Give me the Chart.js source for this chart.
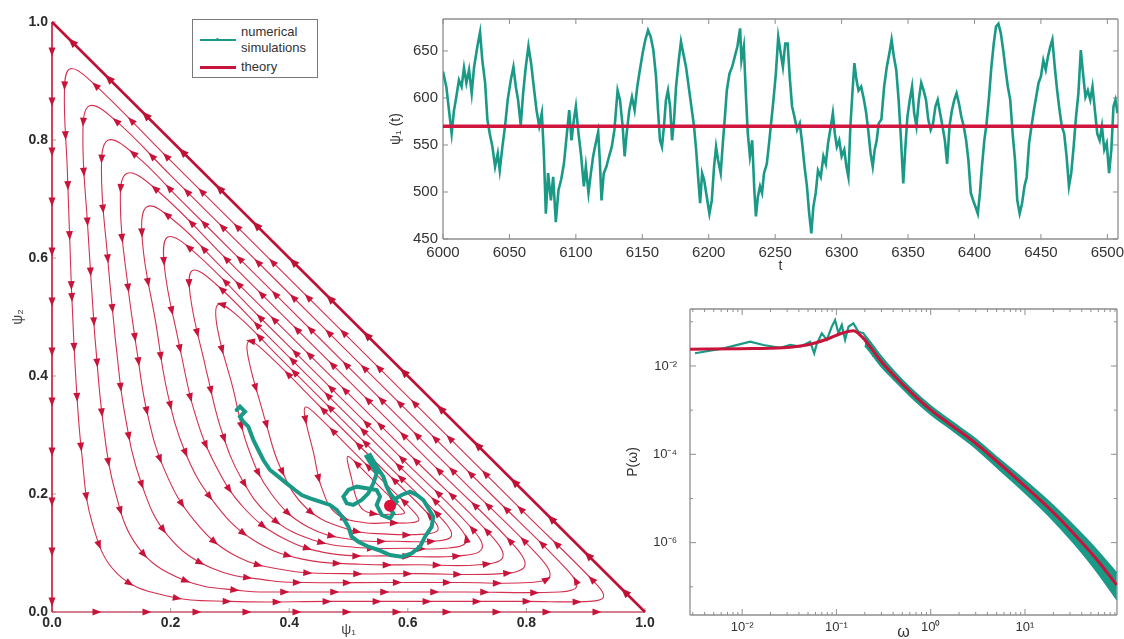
<!DOCTYPE html>
<html><head><meta charset="utf-8">
<script src="https://cdn.jsdelivr.net/npm/chart.js@4.4.1/dist/chart.umd.min.js"></script>
<style>
html,body{margin:0;padding:0;background:#fff;}
body{width:1124px;height:639px;position:relative;overflow:hidden;font-family:'Liberation Sans',Arial,sans-serif;}
canvas{position:absolute;}
#legend{position:absolute;left:192px;top:19px;width:126px;height:59px;border:1px solid #7a7a7a;background:#fff;box-sizing:border-box;font-size:13px;color:#333;z-index:5;}
#legend span{position:absolute;left:48px;line-height:16px;white-space:nowrap;}
#legend .ln{position:absolute;left:7px;width:36px;}
#legend .dot{position:absolute;left:23px;width:3px;height:3px;border-radius:50%;}
</style></head><body>
<canvas id="phase" width="660" height="639" style="left:0;top:0;width:660px;height:639px"></canvas>
<canvas id="series" width="754" height="290" style="left:370px;top:0;width:754px;height:290px"></canvas>
<canvas id="spectrum" width="509" height="349" style="left:615px;top:290px;width:509px;height:349px"></canvas>
<div id="legend">
  <div class="ln" style="top:19px;height:1.5px;background:#1a9a86"></div>
  <div class="dot" style="top:18px;background:#1a9a86"></div>
  <span style="top:4px">numerical</span>
  <span style="top:20px">simulations</span>
  <div class="ln" style="top:46px;height:3px;background:#c8143a"></div>
  <span style="top:39px">theory</span>
</div>
<script>
// ---------------- DATA ----------------
// Left panel: phase portrait (psi1, psi2)
const phaseTickValues = [0, 0.2, 0.4, 0.6, 0.8, 1.0];
const phaseTickLabels = ['0.0', '0.2', '0.4', '0.6', '0.8', '1.0'];
const fixedPoint = [0.57, 0.18];
const edgeHyp = [[1, 0], [0, 1]];
const edgeLeft = [[0, 1], [0, 0]];
const edgeBottom = [[0, 0], [1, 0]];
const loop1 = [[.0327,.55],[.040,.40],[.050,.27],[.068,.15],[.11,.065],[.19,.028],[.30,.018],[.47,.018],[.64,.018],[.80,.018],[.907,.018],[.93,.025],[.919,.046],[.80,.165],[.65,.315],[.50,.465],[.35,.615],[.20,.765],[.061,.904],[.030,.9205],[.021,.886],[.0258,.75],[.0327,.55]];
const loop2 = [[.072,.47],[.085,.33],[.105,.21],[.145,.11],[.22,.055],[.32,.036],[.39,.034],[.54,.034],[.70,.034],[.856,.034],[.8847,.0429],[.8706,.0694],[.74,.20],[.60,.34],[.46,.48],[.32,.62],[.20,.74],[.1046,.8354],[.0632,.8579],[.0521,.812],[.0604,.65],[.072,.47]];
const loop3 = [[.107,.46],[.122,.34],[.15,.22],[.195,.13],[.27,.074],[.37,.053],[.43,.05],[.56,.05],[.69,.05],[.805,.05],[.8394,.0606],[.8226,.0924],[.70,.215],[.57,.345],[.44,.475],[.31,.605],[.22,.695],[.1406,.7744],[.0945,.7996],[.0834,.748],[.0939,.60],[.107,.46]];
const loop4 = [[.142,.45],[.16,.34],[.19,.24],[.24,.155],[.31,.095],[.40,.07],[.49,.065],[.62,.065],[.757,.065],[.7971,.0774],[.7775,.1145],[.66,.232],[.54,.352],[.42,.472],[.30,.592],[.1767,.7153],[.126,.7433],[.1154,.686],[.1283,.55],[.142,.45]];
const loop5 = [[.175,.49],[.195,.37],[.225,.27],[.27,.19],[.335,.125],[.42,.09],[.52,.081],[.62,.08],[.72,.08],[.7601,.0924],[.7405,.1295],[.62,.25],[.50,.37],[.38,.49],[.28,.59],[.2107,.6593],[.1608,.6873],[.1523,.63],[.175,.49]];
const loop6 = [[.215,.45],[.24,.34],[.275,.25],[.325,.175],[.39,.125],[.47,.099],[.57,.095],[.685,.095],[.7251,.1074],[.7055,.1445],[.59,.26],[.47,.38],[.35,.50],[.2396,.6104],[.1953,.6356],[.1897,.584],[.215,.45]];
const loop7 = [[.26,.41],[.285,.31],[.32,.225],[.37,.16],[.44,.122],[.52,.109],[.60,.108],[.664,.108],[.6984,.1186],[.6816,.1504],[.57,.262],[.46,.372],[.36,.472],[.2756,.5564],[.2368,.5789],[.2336,.533],[.26,.41]];
const loop8 = [[.305,.38],[.33,.28],[.37,.20],[.43,.145],[.51,.122],[.58,.12],[.645,.12],[.6737,.1289],[.6596,.1554],[.56,.255],[.46,.355],[.38,.435],[.3135,.5015],[.2801,.5212],[.2789,.481],[.305,.38]];
const loop9 = [[.358,.33],[.385,.245],[.43,.175],[.50,.14],[.565,.132],[.628,.132],[.6509,.1391],[.6397,.1603],[.55,.25],[.45,.35],[.3554,.4446],[.3317,.4587],[.3312,.43],[.358,.33]];
const loop10 = [[.441,.27],[.4546,.2112],[.4796,.1662],[.528,.1512],[.567,.1512],[.6048,.1512],[.6185,.1555],[.6118,.1682],[.558,.222],[.498,.282],[.4412,.3388],[.427,.3472],[.4267,.33],[.441,.27]];
const loop11 = [[.5055,.225],[.5123,.1956],[.5248,.1731],[.549,.1656],[.5685,.1656],[.5874,.1656],[.5943,.1677],[.5909,.1741],[.564,.201],[.534,.231],[.5056,.2594],[.4985,.2636],[.4984,.255],[.5055,.225]];
const trajectory = [[.3114,.3424],[.3170,.348],[.3255,.3395],[.3170,.331],[.3226,.3226],[.3311,.3141],[.3395,.2915],[.3479,.2746],[.3564,.2576],[.3676,.2407],[.3817,.2294],[.3957,.2181],[.4098,.2068],[.4210,.1983],[.4351,.1927],[.4519,.187],[.4688,.1814],[.4801,.1729],[.4913,.1588],[.4997,.1446],[.5053,.1277],[.5166,.1192],[.5334,.1107],[.5503,.1051],[.570,.0966],[.5897,.0938],[.6065,.0994],[.6206,.1107],[.629,.1277],[.6403,.1446],[.643,.1616],[.6346,.1757],[.6262,.1898],[.615,.1983],[.6037,.2040],[.5897,.1983],[.5756,.1898],[.5672,.1785],[.5756,.1672],[.570,.1588],[.556,.1644],[.5475,.1814],[.5531,.1955],[.5475,.2068],[.5306,.2096],[.5138,.2124],[.4997,.2068],[.4913,.1955],[.4969,.1842],[.5081,.1814],[.5222,.1898],[.5334,.2011],[.5419,.2181],[.5475,.2350],[.5391,.2492],[.5306,.2633],[.5363,.2661],[.5475,.2463],[.5587,.2294],[.5644,.2124],[.570,.2011],[.5812,.187],[.5728,.1757],[.5644,.1785]];

// Top right: psi1(t) time series
const seriesXTicks = [6000, 6050, 6100, 6150, 6200, 6250, 6300, 6350, 6400, 6450, 6500];
const seriesYTicks = [450, 500, 550, 600, 650];
const theoryLevel = 570;
const psi1Series = [[6000,628],[6002.5,612],[6004.5,587],[6006.5,562],[6008.3,587],[6010,601],[6012,619],[6014,612],[6015.8,632],[6017.6,616],[6019.6,630],[6021.6,605],[6023.4,633],[6025.9,655],[6027.9,670],[6029.6,640],[6031.7,616],[6033.4,577],[6035.2,562],[6037.2,548],[6039.2,527],[6041.2,541],[6042.7,523],[6044.7,548],[6046.7,570],[6048.7,598],[6051,619],[6053,633],[6054.8,612],[6056.5,598],[6058.5,571],[6060.3,605],[6062.3,633],[6064.3,655],[6066.3,637],[6068.3,612],[6070.4,587],[6072.4,570],[6074.4,584],[6075.9,541],[6077.4,477],[6079.1,520],[6081.2,491],[6082.9,516],[6084.9,468],[6086.9,502],[6088.9,513],[6091,530],[6093,559],[6095,587],[6096.7,555],[6098.5,577],[6100,591],[6102,562],[6104,538],[6106,506],[6107.5,527],[6109.5,499],[6111.3,520],[6113,538],[6115,552],[6116.8,564],[6118,534],[6119.3,491],[6121,520],[6123,527],[6125,538],[6127,548],[6129,566],[6131.4,608],[6133.2,598],[6135.2,570],[6136.7,538],[6138.2,562],[6140.2,587],[6142.2,601],[6144.2,587],[6146.2,612],[6148.2,630],[6150.3,648],[6152.3,662],[6154.3,672],[6156.3,665],[6158.3,651],[6160.3,623],[6161.8,587],[6163.3,555],[6164.8,548],[6166.3,570],[6167.8,598],[6169.3,608],[6170.9,591],[6172.4,555],[6173.9,577],[6175.4,612],[6177.4,640],[6179.1,660],[6180.9,647],[6182.9,633],[6184.9,612],[6186.9,591],[6188.9,570],[6190.5,545],[6192,516],[6193.5,488],[6195,520],[6196.5,513],[6198.5,495],[6200.5,477],[6202.3,491],[6204,527],[6205.5,548],[6207,534],[6209,520],[6210.6,552],[6212,577],[6213.6,608],[6215.6,626],[6217.6,633],[6219.6,644],[6221.6,655],[6223.6,674],[6224.6,640],[6226.4,655],[6227.9,605],[6229.4,562],[6231,538],[6232.7,555],[6234.3,502],[6235.5,474],[6237,495],[6238.6,506],[6240.1,499],[6241.6,520],[6243.7,530],[6245.4,552],[6247.2,577],[6248.7,598],[6250.5,626],[6252.3,665],[6254.1,648],[6255.8,633],[6257.6,658],[6259.4,658],[6260.9,623],[6262.7,591],[6264.5,580],[6266.5,566],[6268.5,573],[6270.3,552],[6272.1,527],[6273.9,506],[6275.6,477],[6277.2,456],[6278.7,484],[6280.5,499],[6282.2,523],[6284.3,516],[6286.3,538],[6288.1,530],[6289.8,552],[6291.9,570],[6293.4,584],[6294.9,562],[6296.4,548],[6298.2,555],[6300,538],[6302,545],[6303.6,527],[6305.1,516],[6306.6,570],[6308.1,605],[6309.6,637],[6311.2,619],[6312.7,608],[6314.7,612],[6316.8,598],[6318.5,584],[6320.3,562],[6321.8,541],[6323.4,527],[6324.9,545],[6326.4,555],[6327.9,573],[6329.9,577],[6332,612],[6334,633],[6336,648],[6337.6,662],[6339.3,644],[6341.1,630],[6342.9,598],[6344.7,555],[6346.4,509],[6348,548],[6349.5,580],[6351.3,598],[6353,612],[6354.6,584],[6356.3,570],[6358.1,598],[6359.9,616],[6361.7,608],[6363.5,598],[6365.2,577],[6367,566],[6368.8,573],[6370.6,591],[6372.3,598],[6374.1,584],[6375.9,570],[6377.7,555],[6379.4,530],[6381.2,570],[6383,587],[6384.8,598],[6386.5,605],[6388.3,594],[6390.1,580],[6391.9,570],[6393.7,555],[6395.4,534],[6397.2,499],[6399,491],[6400.8,484],[6402.5,477],[6404.1,499],[6405.6,527],[6407.4,555],[6409.1,573],[6410.9,601],[6412.7,633],[6414.5,658],[6416.2,676],[6418,679],[6419.8,669],[6421.6,651],[6423.4,630],[6425.1,612],[6426.9,598],[6428.7,562],[6430.5,534],[6432.2,491],[6434,477],[6435.8,488],[6437.6,506],[6439.3,516],[6441.1,552],[6442.9,570],[6444.7,587],[6446.4,601],[6448.2,616],[6450,623],[6451.8,640],[6453.6,630],[6455.3,644],[6457.1,655],[6458.6,662],[6460.4,633],[6462.2,608],[6464,587],[6465.7,570],[6467.5,562],[6469.3,538],[6471.1,506],[6472.8,520],[6474.6,548],[6476.4,580],[6478.2,605],[6480,651],[6481.7,626],[6483.5,601],[6485.3,608],[6487.1,598],[6488.8,612],[6490.6,587],[6492.4,562],[6494.2,555],[6495.9,570],[6497.7,545],[6499.5,552],[6501.3,520],[6503,545],[6504.6,591],[6506.1,598],[6507.6,584]];

// Bottom right: power spectrum P(omega)
const specXTicks = [0.01, 0.1, 1, 10];
const specXLabels = ['10\u207B\u00B2', '10\u207B\u00B9', '10\u2070', '10\u00B9'];
const specYTicks = [1e-6, 1e-4, 1e-2];
const specYLabels = ['10\u207B\u2076', '10\u207B\u2074', '10\u207B\u00B2'];
const spectrumTheory = [[0.00281,0.0239],[0.00955,0.0246],[0.0274,0.0259],[0.0485,0.0299],[0.0791,0.0402],[0.1186,0.0566],[0.1514,0.0628],[0.1858,0.046],[0.2275,0.0274],[0.290,0.01368],[0.4027,0.00625],[0.605,0.00262],[1.0,0.00101],[2.84,1.95e-4],[9.62,2.04e-5],[18,6.0e-6],[32.6,1.64e-6],[56,4.5e-7],[94.0,1.1e-7]];
const spectrumSimLow = [[0.00316,0.0194],[0.00634,0.0251],[0.01216,0.0355],[0.01683,0.0299],[0.0253,0.0259],[0.0324,0.0299],[0.0412,0.0274],[0.0526,0.0355],[0.0581,0.0194],[0.0619,0.0316],[0.070,0.055],[0.0791,0.039],[0.0893,0.0774],[0.0968,0.1096],[0.105,0.055],[0.114,0.0848],[0.1236,0.039],[0.1343,0.0774],[0.1514,0.0923],[0.171,0.0597],[0.1932,0.055],[0.2275,0.0316],[0.2466,0.0162]];
const spectrumSimUpper = [[0.2,0.0501],[0.2275,0.0361],[0.29,0.0180],[0.4027,0.00787],[0.605,0.00323],[1.0,0.001245],[1.7,5.40e-4],[2.84,2.45e-4],[5.2,8.20e-5],[9.62,2.75e-5],[18,8.51e-6],[32.6,2.48e-6],[56,7.41e-7],[94,2.04e-7]];
const spectrumSimLower = [[0.2,0.0288],[0.2275,0.0207],[0.29,0.01038],[0.4027,0.00497],[0.605,0.00208],[1.0,0.000804],[1.7,3.48e-4],[2.84,1.51e-4],[5.2,4.72e-5],[9.62,1.45e-5],[18,3.98e-6],[32.6,9.89e-7],[56,2.40e-7],[94,5.13e-8]];

// ---------------- STYLE ----------------
const TEAL = '#1a9a86';
const RED = '#c8143a';
const HYP = '#bf1035';
const STREAM = '#d4304f';
const FRAME = '#8e8e8e';
Chart.defaults.font.family = "'Liberation Sans', Arial, sans-serif";
Chart.defaults.color = '#333';

const toXY = arr => arr.map(p => ({x: p[0], y: p[1]}));
function fixSize(w, h) {
  return s => {
    if (w != null) s.width = w;
    if (h != null) s.height = h;
    s.paddingLeft = 0; s.paddingRight = 0; s.paddingTop = 0; s.paddingBottom = 0;
  };
}
function setTicks(values) { return s => { s.ticks = values.map(v => ({value: v})); }; }

function drawArrow(ctx, x, y, ang, L, W) {
  ctx.save();
  ctx.translate(x, y);
  ctx.rotate(ang);
  ctx.beginPath();
  ctx.moveTo(L / 2, 0);
  ctx.lineTo(-L / 2, W / 2);
  ctx.lineTo(-L / 2, -W / 2);
  ctx.closePath();
  ctx.fill();
  ctx.restore();
}

const arrowPlugin = {
  id: 'flowArrows',
  afterDatasetDraw(chart, args) {
    const ds = chart.data.datasets[args.index];
    if (!ds.arrowSpacing) return;
    const meta = args.meta;
    if (meta.dataset && meta.dataset.updateControlPoints) meta.dataset.updateControlPoints(chart.chartArea, 'x');
    const pts = meta.data;
    const ctx = chart.ctx;
    const step = ds.arrowSpacing;
    let next = step * (ds.arrowPhase != null ? ds.arrowPhase : 0.5);
    let acc = 0;
    const L = ds.arrowLength || 9, W = ds.arrowWidth || 7;
    ctx.save();
    ctx.fillStyle = ds.arrowColor || ds.borderColor;
    for (let i = 0; i < pts.length - 1; i++) {
      const a = pts[i], b = pts[i + 1];
      const c1x = Number.isFinite(a.cp2x) ? a.cp2x : a.x;
      const c1y = Number.isFinite(a.cp2y) ? a.cp2y : a.y;
      const c2x = Number.isFinite(b.cp1x) ? b.cp1x : b.x;
      const c2y = Number.isFinite(b.cp1y) ? b.cp1y : b.y;
      let px = a.x, py = a.y;
      const N = 30;
      for (let s = 1; s <= N; s++) {
        const t = s / N, u = 1 - t;
        const x = u*u*u*a.x + 3*u*u*t*c1x + 3*u*t*t*c2x + t*t*t*b.x;
        const y = u*u*u*a.y + 3*u*u*t*c1y + 3*u*t*t*c2y + t*t*t*b.y;
        const d = Math.hypot(x - px, y - py);
        while (d > 0 && acc + d >= next) {
          const f = (next - acc) / d;
          drawArrow(ctx, px + (x - px) * f, py + (y - py) * f, Math.atan2(y - py, x - px), L, W);
          next += step;
        }
        acc += d; px = x; py = y;
      }
    }
    ctx.restore();
  }
};

function makeFrame(spec) {
  return {
    id: 'frame',
    beforeDatasetsDraw(chart) {
      const {left, right, top, bottom} = chart.chartArea;
      const ctx = chart.ctx;
      ctx.save();
      ctx.strokeStyle = spec.color;
      ctx.lineWidth = spec.width;
      ctx.beginPath();
      if (spec.sides.includes('top')) { ctx.moveTo(left, top); ctx.lineTo(right, top); }
      if (spec.sides.includes('right')) { ctx.moveTo(right, top); ctx.lineTo(right, bottom); }
      if (spec.sides.includes('bottom')) { ctx.moveTo(left, bottom); ctx.lineTo(right, bottom); }
      if (spec.sides.includes('left')) { ctx.moveTo(left, top); ctx.lineTo(left, bottom); }
      ctx.stroke();
      ctx.lineWidth = 1;
      for (const m of spec.marks) {
        const sc = chart.scales[m.scale];
        ctx.beginPath();
        for (const v of m.values) {
          const p = sc.getPixelForValue(v);
          for (const side of m.sides) {
            if (side === 'bottom') { ctx.moveTo(p, bottom); ctx.lineTo(p, bottom - m.len); }
            if (side === 'top') { ctx.moveTo(p, top); ctx.lineTo(p, top + m.len); }
            if (side === 'left') { ctx.moveTo(left, p); ctx.lineTo(left + m.len, p); }
            if (side === 'right') { ctx.moveTo(right, p); ctx.lineTo(right - m.len, p); }
          }
        }
        ctx.stroke();
      }
      ctx.restore();
    }
  };
}

const common = {
  responsive: false,
  animation: false,
  devicePixelRatio: 1,
  events: [],
};

// ---------------- PHASE PORTRAIT ----------------
const loops = [loop1, loop2, loop3, loop4, loop5, loop6, loop7, loop8, loop9, loop10, loop11];
const phaseDatasets = [
  {label: 'fixed point', data: toXY([fixedPoint]), showLine: false, pointRadius: 6, pointBackgroundColor: '#e0103a', pointBorderWidth: 0},
  {label: 'numerical simulations', data: toXY(trajectory), borderColor: TEAL, borderWidth: 4, tension: 0, pointRadius: 0, borderJoinStyle: 'miter', borderCapStyle: 'round'},
  {label: 'theory', data: toXY(edgeHyp), borderColor: HYP, borderWidth: 2.6, pointRadius: 0, clip: false, arrowSpacing: 52, arrowLength: 10, arrowWidth: 8, arrowColor: HYP, arrowPhase: 0.55},
  {label: 'edge1', data: toXY(edgeLeft), borderColor: STREAM, borderWidth: 1, pointRadius: 0, clip: false, arrowSpacing: 50, arrowPhase: 0.6, arrowColor: RED},
  {label: 'edge2', data: toXY(edgeBottom), borderColor: STREAM, borderWidth: 1, pointRadius: 0, clip: false, arrowSpacing: 50, arrowPhase: 0.9, arrowColor: RED},
].concat(loops.map((l, k) => ({
  label: 'stream' + (k + 1), data: toXY(l), borderColor: STREAM, borderWidth: 1.1, tension: 0.4, pointRadius: 0,
  arrowSpacing: 50, arrowPhase: (0.2 + k * 0.37) % 1, arrowColor: RED, arrowLength: 9, arrowWidth: 7
})));

new Chart(document.getElementById('phase'), {
  type: 'line',
  data: {datasets: phaseDatasets},
  options: Object.assign({}, common, {
    layout: {padding: {left: 0, top: 22, right: 15, bottom: 0}},
    plugins: {legend: {display: false}, tooltip: {enabled: false}},
    scales: {
      x: {
        type: 'linear', min: 0, max: 1,
        grid: {display: false, drawTicks: false}, border: {display: false},
        afterBuildTicks: setTicks(phaseTickValues), afterFit: fixSize(null, 27),
        ticks: {padding: 3, autoSkip: false, maxRotation: 0, font: {size: 14, weight: 'bold'}, color: '#2b2b2b', callback: (v, i) => phaseTickLabels[i]},
        title: {display: true, text: 'ψ₁', font: {size: 14}, color: '#444', padding: {top: 0, bottom: 0}}
      },
      y: {
        type: 'linear', min: 0, max: 1,
        grid: {display: false, drawTicks: false}, border: {display: false},
        afterBuildTicks: setTicks(phaseTickValues), afterFit: fixSize(52, null),
        ticks: {padding: 4, autoSkip: false, font: {size: 14, weight: 'bold'}, color: '#2b2b2b', callback: (v, i) => phaseTickLabels[i]},
        title: {display: true, text: 'ψ₂', font: {size: 14}, color: '#444', padding: {top: 10, bottom: 0}}
      }
    }
  }),
  plugins: [makeFrame({color: '#a0a0a0', width: 1, sides: ['left', 'bottom'], marks: [
    {scale: 'x', values: phaseTickValues, sides: ['bottom'], len: 4},
    {scale: 'y', values: phaseTickValues, sides: ['left'], len: 4}
  ]}), arrowPlugin]
});

// ---------------- TIME SERIES ----------------
new Chart(document.getElementById('series'), {
  type: 'line',
  data: {datasets: [
    {label: 'theory', data: toXY([[6000, theoryLevel], [6508, theoryLevel]]), borderColor: '#d0163e', borderWidth: 3.5, pointRadius: 0},
    {label: 'numerical simulations', data: toXY(psi1Series), borderColor: TEAL, borderWidth: 2.6, pointRadius: 0, tension: 0, borderJoinStyle: 'miter'}
  ]},
  options: Object.assign({}, common, {
    layout: {padding: {left: 0, top: 19, right: 6, bottom: 0}},
    plugins: {legend: {display: false}, tooltip: {enabled: false}},
    scales: {
      x: {
        type: 'linear', min: 6000, max: 6508,
        grid: {display: false, drawTicks: false}, border: {display: false},
        afterBuildTicks: setTicks(seriesXTicks), afterFit: fixSize(null, 51),
        ticks: {padding: 5, autoSkip: false, maxRotation: 0, font: {size: 15}, color: '#333', callback: v => String(v)},
        title: {display: true, text: 't', font: {size: 14}, color: '#333', padding: {top: 0, bottom: 15}}
      },
      y: {
        type: 'linear', min: 450, max: 684,
        grid: {display: false, drawTicks: false}, border: {display: false},
        afterBuildTicks: setTicks(seriesYTicks), afterFit: fixSize(73, null),
        ticks: {padding: 5, autoSkip: false, font: {size: 15}, color: '#333', callback: v => String(v)},
        title: {display: true, text: 'ψ₁ (t)', font: {size: 14}, color: '#333', padding: {top: 18, bottom: 0}}
      }
    }
  }),
  plugins: [makeFrame({color: FRAME, width: 1.3, sides: ['top', 'right', 'bottom', 'left'], marks: [
    {scale: 'x', values: seriesXTicks, sides: ['bottom', 'top'], len: 5},
    {scale: 'y', values: seriesYTicks, sides: ['left', 'right'], len: 5}
  ]})]
});

// ---------------- SPECTRUM ----------------
const minorX = [];
for (let e = -3; e <= 1; e++) for (let m = 2; m <= 9; m++) { const v = m * Math.pow(10, e); if (v > 0.0028 && v < 94.6) minorX.push(v); }
const oddDecadesY = [1e-7, 1e-5, 1e-3, 1e-1];

new Chart(document.getElementById('spectrum'), {
  type: 'line',
  data: {datasets: [
    {label: 'theory', data: toXY(spectrumTheory), borderColor: '#c8143a', borderWidth: 3, pointRadius: 0, cubicInterpolationMode: 'monotone'},
    {label: 'numerical simulations', data: toXY(spectrumSimLow), borderColor: TEAL, borderWidth: 2.2, pointRadius: 0, tension: 0},
    {label: 'sim upper', data: toXY(spectrumSimUpper), borderColor: TEAL, borderWidth: 1.5, pointRadius: 0, cubicInterpolationMode: 'monotone', fill: false},
    {label: 'sim lower', data: toXY(spectrumSimLower), borderColor: TEAL, borderWidth: 1.5, pointRadius: 0, cubicInterpolationMode: 'monotone', fill: '-1', backgroundColor: TEAL}
  ]},
  options: Object.assign({}, common, {
    layout: {padding: {left: 0, top: 19, right: 7, bottom: 0}},
    plugins: {legend: {display: false}, tooltip: {enabled: false}},
    scales: {
      x: {
        type: 'logarithmic', min: 0.0028, max: 94.6,
        grid: {display: false, drawTicks: false}, border: {display: false},
        afterBuildTicks: setTicks(specXTicks), afterFit: fixSize(null, 24),
        ticks: {padding: 5, autoSkip: false, maxRotation: 0, font: {size: 13}, color: '#333', callback: (v, i) => specXLabels[i]},
        title: {display: true, text: 'ω', font: {size: 16}, color: '#333', padding: {top: 0, bottom: -3}}
      },
      y: {
        type: 'logarithmic', min: 2.3e-8, max: 0.195,
        grid: {display: false, drawTicks: false}, border: {display: false},
        afterBuildTicks: setTicks(specYTicks), afterFit: fixSize(75, null),
        ticks: {padding: 13, autoSkip: false, font: {size: 13}, color: '#333', callback: (v, i) => specYLabels[i]},
        title: {display: true, text: 'P(ω)', font: {size: 14}, color: '#333', padding: {top: 10, bottom: 0}}
      }
    }
  }),
  plugins: [makeFrame({color: FRAME, width: 1.3, sides: ['top', 'right', 'bottom', 'left'], marks: [
    {scale: 'x', values: specXTicks, sides: ['bottom', 'top'], len: 6},
    {scale: 'x', values: minorX, sides: ['bottom', 'top'], len: 3},
    {scale: 'y', values: specYTicks, sides: ['left', 'right'], len: 6},
    {scale: 'y', values: oddDecadesY, sides: ['left', 'right'], len: 3}
  ]})]
});
</script>
</body></html>
